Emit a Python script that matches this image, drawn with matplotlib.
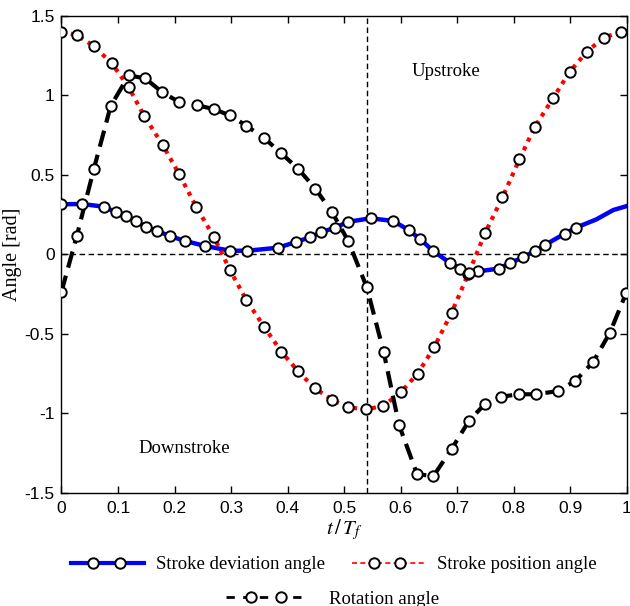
import matplotlib
matplotlib.use('agg')
import matplotlib.pyplot as plt
from matplotlib.legend_handler import HandlerLine2D
from matplotlib.lines import Line2D

# stroke deviation angle (blue) - marker samples, line continues past last marker
dev_t = [0.0, 0.036, 0.075, 0.096, 0.114, 0.131, 0.149, 0.169, 0.192, 0.219, 0.254,
         0.298, 0.329, 0.383, 0.415, 0.439, 0.459, 0.484, 0.507, 0.547, 0.587, 0.614,
         0.634, 0.657, 0.688, 0.705, 0.719, 0.736, 0.773, 0.793, 0.816, 0.838, 0.856,
         0.890, 0.910]
dev_a = [0.314, 0.316, 0.299, 0.264, 0.238, 0.207, 0.173, 0.146, 0.114, 0.083, 0.052,
         0.022, 0.022, 0.041, 0.077, 0.106, 0.138, 0.167, 0.204, 0.226, 0.209, 0.152,
         0.096, 0.022, -0.057, -0.091, -0.125, -0.108, -0.091, -0.057, -0.020, 0.022, 0.060,
         0.129, 0.167]
dev_tail_t = [0.946, 0.976, 1.0]
dev_tail_a = [0.219, 0.278, 0.303]

# stroke position angle (red)
pos_t = [0.0, 0.027, 0.057, 0.089, 0.119, 0.146, 0.179, 0.208, 0.238, 0.270, 0.298,
         0.327, 0.359, 0.389, 0.418, 0.448, 0.479, 0.507, 0.538, 0.569, 0.600, 0.630,
         0.659, 0.690, 0.720, 0.749, 0.780, 0.810, 0.837, 0.870, 0.899, 0.929, 0.959, 0.989]
pos_a = [1.400, 1.379, 1.310, 1.200, 1.050, 0.871, 0.687, 0.504, 0.300, 0.106, -0.100,
         -0.288, -0.460, -0.613, -0.735, -0.843, -0.917, -0.963, -0.976, -0.955, -0.869, -0.751,
         -0.586, -0.368, -0.120, 0.131, 0.358, 0.597, 0.800, 0.984, 1.148, 1.273, 1.362, 1.400]
pos_tail_t = [1.0]
pos_tail_a = [1.405]

# rotation angle (black)
rot_t = [0.0, 0.027, 0.057, 0.087, 0.119, 0.148, 0.178, 0.207, 0.239, 0.269, 0.298,
         0.327, 0.359, 0.389, 0.419, 0.449, 0.478, 0.507, 0.540, 0.570, 0.597, 0.629,
         0.658, 0.690, 0.721, 0.749, 0.778, 0.810, 0.840, 0.879, 0.909, 0.940, 0.970, 0.999]
rot_a = [-0.236, 0.114, 0.533, 0.932, 1.125, 1.106, 1.020, 0.959, 0.938, 0.913, 0.873,
         0.808, 0.729, 0.634, 0.536, 0.412, 0.267, 0.085, -0.208, -0.617, -1.074, -1.384,
         -1.395, -1.225, -1.047, -0.942, -0.896, -0.881, -0.881, -0.860, -0.796, -0.680, -0.494, -0.242]

t_switch = 0.54

serif = 'Liberation Serif'
sans = 'Liberation Sans'
plt.rcParams['mathtext.fontset'] = 'stix'


class TwoMarkerLine(HandlerLine2D):
    # full-length line with two markers placed inside it (matlab style)
    def create_artists(self, legend, orig_handle, xdescent, ydescent,
                       width, height, fontsize, trans):
        y = (height - ydescent) / 2
        x0 = -xdescent
        line = Line2D([x0, x0 + width], [y, y])
        self.update_prop(line, orig_handle, legend)
        line.set_marker('none')
        marks = Line2D([x0 + 0.3 * width, x0 + 0.66 * width], [y, y])
        self.update_prop(marks, orig_handle, legend)
        marks.set_linestyle('None')
        marks.set_markevery(None)
        line.set_transform(trans)
        marks.set_transform(trans)
        return [line, marks]


fig = plt.figure(figsize=(6.3, 6.06), dpi=100)
ax = fig.add_axes([0.0976, 0.187, 0.8974, 0.787])

mk = dict(marker='o', markersize=7.5, markerfacecolor='white', markeredgecolor='black',
          markeredgewidth=1.4, linestyle='none')

ax.axhline(0, color='black', lw=1.0, ls=(0, (4, 2.5)), zorder=1)
ax.axvline(t_switch, color='black', lw=1.0, ls=(0, (4, 2.5)), zorder=1)

ax.plot(dev_t + dev_tail_t, dev_a + dev_tail_a, color='#0000ff', lw=3.2, zorder=2)
ax.plot(dev_t, dev_a, zorder=3, **mk)
ax.plot(pos_t + pos_tail_t, pos_a + pos_tail_a, color='#ff0000', lw=3.0,
        ls=(0, (1, 1.3)), zorder=2)
ax.plot(pos_t, pos_a, zorder=3, **mk)
ax.plot(rot_t, rot_a, color='black', lw=3.0, ls=(0, (4, 2)), zorder=2)
ax.plot(rot_t, rot_a, zorder=3, **mk)

ax.set_xlim(0, 1)
ax.set_ylim(-1.5, 1.5)
ax.set_xticks([0, 0.1, 0.2, 0.3, 0.4, 0.5, 0.6, 0.7, 0.8, 0.9, 1])
ax.set_xticklabels(['0', '0.1', '0.2', '0.3', '0.4', '0.5', '0.6', '0.7', '0.8', '0.9', '1'])
ax.set_yticks([-1.5, -1, -0.5, 0, 0.5, 1, 1.5])
ax.set_yticklabels(['-1.5', '-1', '-0.5', '0', '0.5', '1', '1.5'])
ax.tick_params(direction='in', top=True, right=True, length=5, width=1,
               labelsize=12.5)
ax.tick_params(axis='x', pad=6)
ax.tick_params(axis='y', pad=5)
for lab in ax.get_xticklabels() + ax.get_yticklabels():
    lab.set_family(sans)
for s in ax.spines.values():
    s.set_linewidth(1.0)

ax.set_xlabel(r'$t\,/\,T_f$', fontsize=15, labelpad=1)
ax.set_ylabel('Angle [rad]', family=serif, fontsize=14.5, labelpad=2)

ax.text(0.680, 1.15, 'Upstroke', family=serif, fontsize=13.5, ha='center', va='center')
ax.text(0.218, -1.22, 'Downstroke', family=serif, fontsize=13.5, ha='center', va='center')

# legend handles
lk = dict(marker='o', markersize=7.5, markerfacecolor='white', markeredgecolor='black',
          markeredgewidth=1.4)
h_dev, = ax.plot([], [], color='#0000ff', lw=3.0, **lk)
h_pos, = ax.plot([], [], color='#ff0000', lw=1.2, ls=(0, (3, 2)), **lk)
h_rot, = ax.plot([], [], color='black', lw=2.0, ls=(0, (3, 3)), **lk)
hm = {h: TwoMarkerLine() for h in (h_dev, h_pos, h_rot)}

leg1 = fig.legend([h_dev, h_pos], ['Stroke deviation angle', 'Stroke position angle'],
                  loc='center', bbox_to_anchor=(0.53, 0.068), ncol=2, frameon=False,
                  handler_map=hm, handlelength=3.9, handletextpad=0.64, columnspacing=1.4,
                  borderpad=0, borderaxespad=0, prop={'family': serif, 'size': 13.5})
leg2 = fig.legend([h_rot], ['Rotation angle'],
                  loc='center', bbox_to_anchor=(0.528, 0.0116), frameon=False,
                  handler_map=hm, handlelength=4.4, handletextpad=1.07,
                  borderpad=0, borderaxespad=0, prop={'family': serif, 'size': 13.5})

fig.savefig('out.png', dpi=100)
plt.close()
